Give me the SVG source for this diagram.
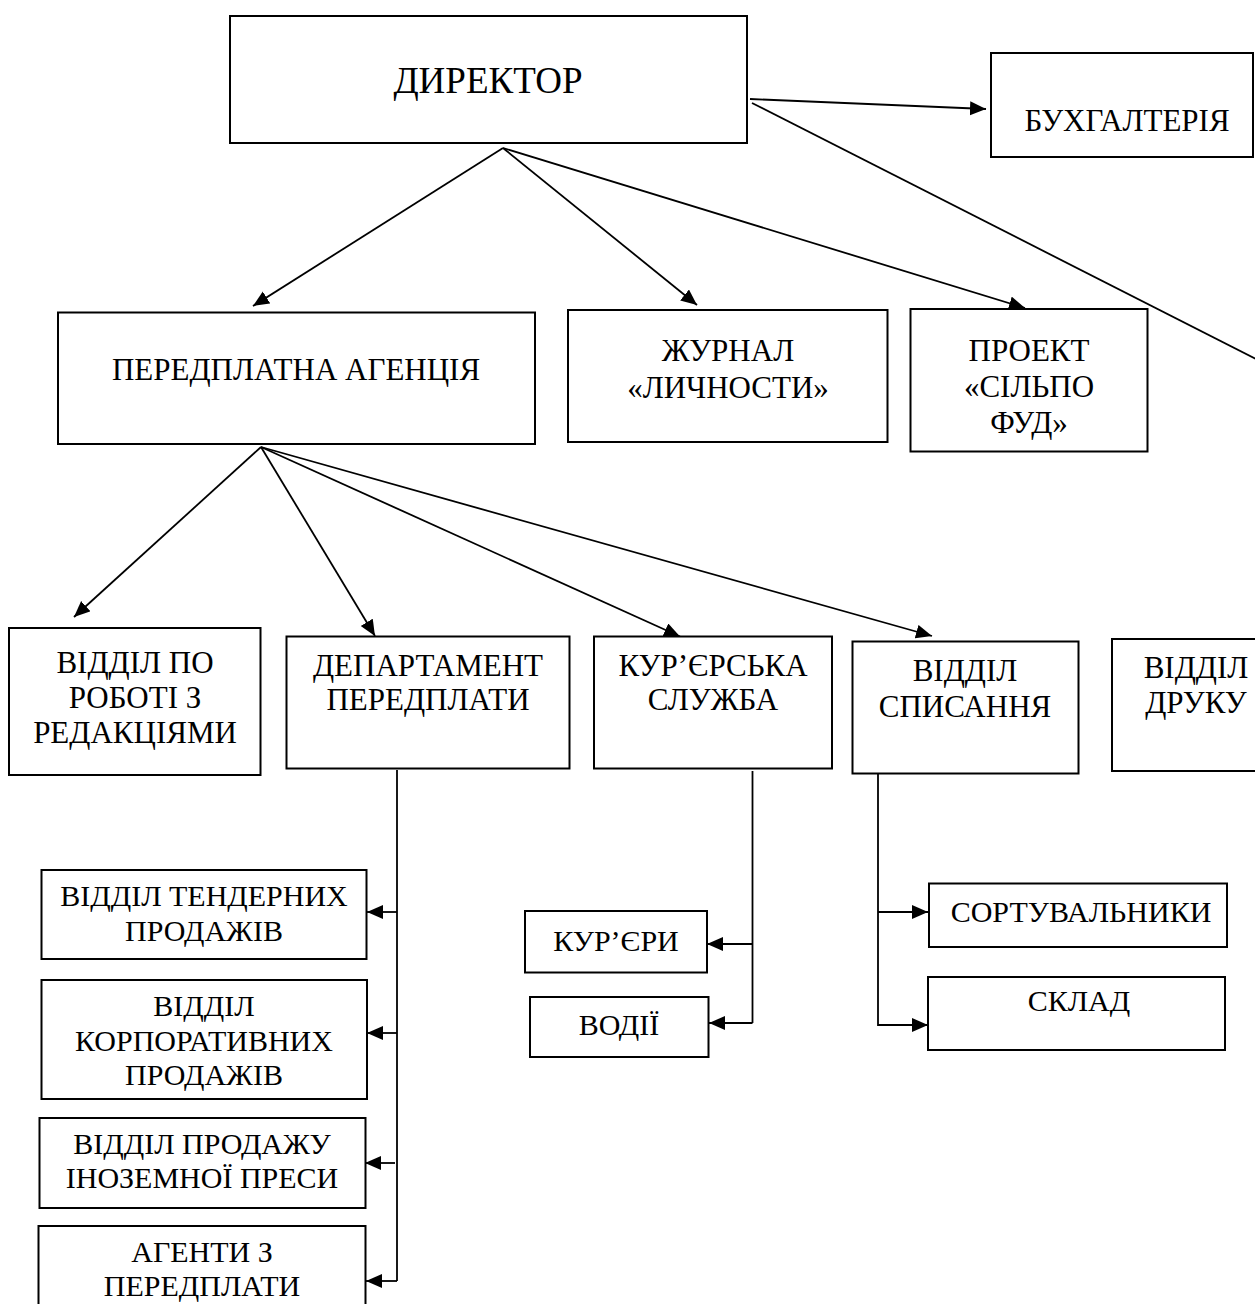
<svg xmlns="http://www.w3.org/2000/svg" width="1255" height="1304" viewBox="0 0 1255 1304">
<style>
.box{fill:#fff;stroke:#000;stroke-width:2}
.t{font-family:"Liberation Serif","Times New Roman",serif;font-size:31px;fill:#000;text-anchor:middle}
.s{font-size:30px}
.c{fill:none;stroke:#000;stroke-width:1.8}
.a{marker-end:url(#ah)}
</style>
<defs>
<marker id="ah" markerUnits="userSpaceOnUse" markerWidth="18" markerHeight="15" refX="16" refY="7" orient="auto">
<path d="M0,0 L16,7 L0,14 Z" fill="#000"/>
</marker>
</defs>
<rect width="1255" height="1304" fill="#fff"/>

<g id="connectors">
<line class="c a" x1="503" y1="148" x2="253" y2="306"/>
<line class="c a" x1="503" y1="148" x2="697" y2="305"/>
<line class="c a" x1="503" y1="148" x2="1025" y2="308"/>
<line class="c a" x1="750" y1="99" x2="986" y2="109"/>
<line class="c" x1="752" y1="103" x2="1262" y2="362"/>
<line class="c a" x1="261" y1="447" x2="74" y2="617"/>
<line class="c a" x1="261" y1="447" x2="375" y2="636"/>
<line class="c a" x1="261" y1="447" x2="680" y2="636.5"/>
<line class="c a" x1="261" y1="447" x2="932" y2="636"/>
<line class="c" x1="397" y1="770" x2="397" y2="1281"/>
<line class="c a" x1="397" y1="912" x2="367" y2="912"/>
<line class="c a" x1="397" y1="1033" x2="367" y2="1033"/>
<line class="c a" x1="395" y1="1163" x2="365" y2="1163"/>
<line class="c a" x1="397" y1="1281" x2="366" y2="1281"/>
<line class="c" x1="752.5" y1="771" x2="752.5" y2="1023"/>
<line class="c a" x1="752.5" y1="944" x2="707" y2="944"/>
<line class="c a" x1="752.5" y1="1023" x2="709" y2="1023"/>
<line class="c" x1="878" y1="774" x2="878" y2="1026"/>
<line class="c a" x1="878" y1="912" x2="928" y2="912"/>
<line class="c a" x1="878" y1="1025" x2="928" y2="1025"/>
</g>

<g id="director"><rect class="box" x="230" y="16" width="517" height="127"/><text class="t" x="488" y="93" style="font-size:37px">ДИРЕКТОР</text></g>
<g id="accounting"><rect class="box" x="991" y="53" width="262" height="104"/><text class="t" x="1127" y="131">БУХГАЛТЕРІЯ</text></g>
<g id="agency"><rect class="box" x="58" y="312.5" width="477" height="131.5"/><text class="t" x="296" y="380">ПЕРЕДПЛАТНА АГЕНЦІЯ</text></g>
<g id="journal"><rect class="box" x="568" y="310" width="319.5" height="132"/><text class="t" x="728" y="361">ЖУРНАЛ</text><text class="t" x="728" y="398">«ЛИЧНОСТИ»</text></g>
<g id="project"><rect class="box" x="910.5" y="309" width="237" height="142.5"/><text class="t" x="1029" y="361">ПРОЕКТ</text><text class="t" x="1029" y="397">«СІЛЬПО</text><text class="t" x="1029" y="433">ФУД»</text></g>

<g id="editorial"><rect class="box" x="9" y="628" width="251.5" height="147"/><text class="t" x="135" y="673">ВІДДІЛ ПО</text><text class="t" x="135" y="708">РОБОТІ З</text><text class="t" x="135" y="743">РЕДАКЦІЯМИ</text></g>
<g id="subscription-dept"><rect class="box" x="286.5" y="636.5" width="283" height="132"/><text class="t" x="428" y="676">ДЕПАРТАМЕНТ</text><text class="t" x="428" y="710">ПЕРЕДПЛАТИ</text></g>
<g id="courier-service"><rect class="box" x="594" y="636.5" width="238" height="132"/><text class="t" x="713" y="676">КУР’ЄРСЬКА</text><text class="t" x="713" y="710">СЛУЖБА</text></g>
<g id="writeoff"><rect class="box" x="852.5" y="641.5" width="226" height="132"/><text class="t" x="965" y="681">ВІДДІЛ</text><text class="t" x="965" y="717">СПИСАННЯ</text></g>
<g id="printing"><rect class="box" x="1112" y="639" width="170" height="132"/><text class="t" x="1196" y="678">ВІДДІЛ</text><text class="t" x="1196" y="713">ДРУКУ</text></g>

<g id="tender"><rect class="box" x="41.5" y="870" width="325" height="89"/><text class="t s" x="204" y="906">ВІДДІЛ ТЕНДЕРНИХ</text><text class="t s" x="204" y="941">ПРОДАЖІВ</text></g>
<g id="corporate"><rect class="box" x="41.5" y="980" width="325.5" height="119"/><text class="t s" x="204" y="1016">ВІДДІЛ</text><text class="t s" x="204" y="1051">КОРПОРАТИВНИХ</text><text class="t s" x="204" y="1085">ПРОДАЖІВ</text></g>
<g id="foreign"><rect class="box" x="39.5" y="1118" width="326" height="90"/><text class="t s" x="202" y="1154">ВІДДІЛ ПРОДАЖУ</text><text class="t s" x="202" y="1188">ІНОЗЕМНОЇ ПРЕСИ</text></g>
<g id="agents"><rect class="box" x="38.5" y="1226" width="327" height="100"/><text class="t s" x="202" y="1262">АГЕНТИ З</text><text class="t s" x="202" y="1296">ПЕРЕДПЛАТИ</text></g>

<g id="couriers"><rect class="box" x="525" y="911" width="182" height="61.5"/><text class="t s" x="616" y="951">КУР’ЄРИ</text></g>
<g id="drivers"><rect class="box" x="530" y="997" width="178.5" height="60"/><text class="t s" x="619" y="1035">ВОДІЇ</text></g>
<g id="sorters"><rect class="box" x="929" y="883.5" width="298" height="63.5"/><text class="t s" x="1081" y="922">СОРТУВАЛЬНИКИ</text></g>
<g id="warehouse"><rect class="box" x="928" y="977" width="297" height="73"/><text class="t s" x="1079" y="1011">СКЛАД</text></g>
</svg>
